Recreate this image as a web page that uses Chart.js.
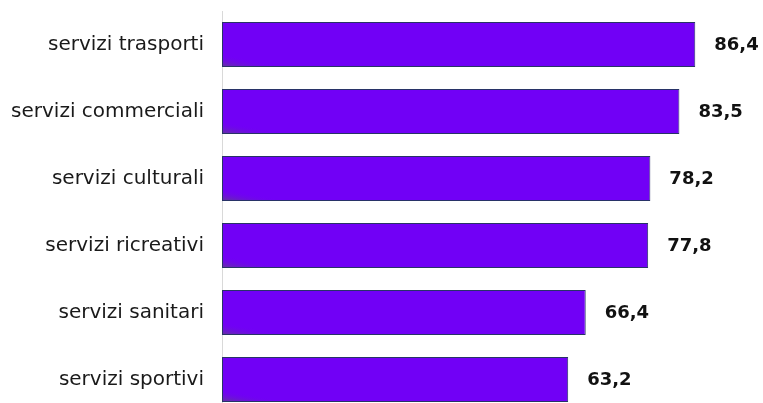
<!DOCTYPE html>
<html>
<head>
<meta charset="utf-8">
<script src="https://cdn.jsdelivr.net/npm/chart.js@4"></script>
<style>
html,body{margin:0;padding:0;background:#fff;overflow:hidden;}
#wrap{width:763px;height:415px;}
</style>
</head>
<body>
<div id="wrap"><canvas id="c" width="763" height="415"></canvas></div>
<script>
const categories = ["servizi trasporti","servizi commerciali","servizi culturali","servizi ricreativi","servizi sanitari","servizi sportivi"];
const values = [86.4, 83.5, 78.2, 77.8, 66.4, 63.2];

const shadePlugin = {
  id: 'shade',
  afterDatasetsDraw(chart) {
    const ctx = chart.ctx;
    const meta = chart.getDatasetMeta(0);
    ctx.save();
    meta.data.forEach((el) => {
      const left = Math.min(el.base, el.x);
      const right = Math.max(el.base, el.x);
      const top = el.y - el.height / 2;
      const bottom = el.y + el.height / 2;
      const g = ctx.createLinearGradient(left, bottom, left + 2.4, bottom - 12.5);
      g.addColorStop(0, 'rgba(95,70,130,0.85)');
      g.addColorStop(1, 'rgba(112,0,246,0)');
      ctx.fillStyle = g;
      ctx.fillRect(left + 1, top + 1, right - left - 2, bottom - top - 2);
    });
    ctx.restore();
  }
};

const valueLabels = {
  id: 'valueLabels',
  afterDatasetsDraw(chart) {
    const ctx = chart.ctx;
    const meta = chart.getDatasetMeta(0);
    ctx.save();
    ctx.font = 'bold 18px "DejaVu Sans"';
    ctx.fillStyle = '#111111';
    ctx.textAlign = 'left';
    ctx.textBaseline = 'middle';
    meta.data.forEach((el, i) => {
      ctx.fillText(values[i].toFixed(1).replace('.', ','), el.x + 19, el.y + 1);
    });
    ctx.restore();
  }
};

new Chart(document.getElementById('c'), {
  type: 'bar',
  data: {
    labels: categories,
    datasets: [{
      data: values,
      backgroundColor: '#7100f6',
      borderColor: '#283367',
      borderWidth: 1,
      borderSkipped: false,
      barPercentage: 0.672,
      categoryPercentage: 1.0
    }]
  },
  options: {
    indexAxis: 'y',
    responsive: false,
    animation: false,
    devicePixelRatio: 1,
    layout: { padding: { top: 11, right: 48, bottom: 2, left: 0 } },
    plugins: { legend: { display: false }, tooltip: { enabled: false } },
    scales: {
      x: { display: false, min: 0, max: 90 },
      y: {
        grid: { display: false, drawTicks: false },
        border: { display: true, color: '#d9d9d9', width: 1 },
        ticks: { padding: 18, color: '#1a1a1a', font: { family: '"DejaVu Sans"', size: 20 } },
        afterFit(scale) { scale.width = 222; scale.paddingTop = 0; scale.paddingBottom = 0; }
      }
    }
  },
  plugins: [shadePlugin, valueLabels]
});
</script>
</body>
</html>
